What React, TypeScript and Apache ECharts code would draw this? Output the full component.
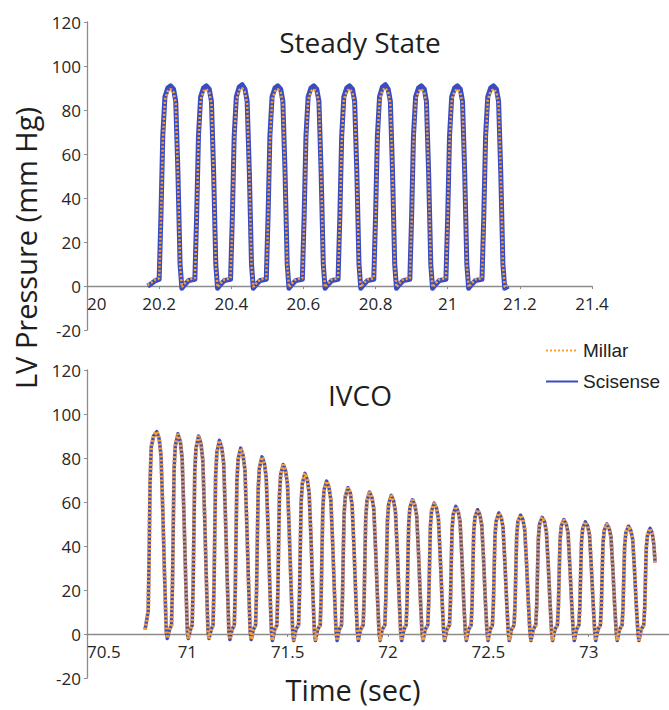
import React, { useEffect, useRef } from "react";
import * as echarts from "echarts";

// ---------- Steady State panel (time in s, LV pressure in mm Hg) ----------
const steadyTime = [
  20.168, 20.178, 20.19,
  20.2, 20.205, 20.21, 20.216, 20.224, 20.232, 20.24, 20.246, 20.252, 20.258, 20.263, 20.27, 20.282,
  20.299, 20.304, 20.309, 20.315, 20.323, 20.331, 20.339, 20.345, 20.351, 20.357, 20.362, 20.369, 20.381,
  20.398, 20.403, 20.408, 20.414, 20.422, 20.43, 20.438, 20.444, 20.45, 20.456, 20.461, 20.468, 20.48,
  20.497, 20.502, 20.507, 20.513, 20.521, 20.529, 20.537, 20.543, 20.549, 20.555, 20.56, 20.567, 20.579,
  20.597, 20.602, 20.607, 20.613, 20.621, 20.629, 20.637, 20.643, 20.649, 20.655, 20.66, 20.667, 20.679,
  20.696, 20.701, 20.706, 20.712, 20.72, 20.728, 20.736, 20.742, 20.748, 20.754, 20.759, 20.766, 20.778,
  20.795, 20.8, 20.805, 20.811, 20.819, 20.827, 20.835, 20.841, 20.847, 20.853, 20.858, 20.865, 20.877,
  20.895, 20.9, 20.905, 20.911, 20.919, 20.927, 20.935, 20.941, 20.947, 20.953, 20.958, 20.965, 20.977,
  20.995, 21.0, 21.005, 21.011, 21.019, 21.027, 21.035, 21.041, 21.047, 21.053, 21.058, 21.065, 21.077,
  21.095, 21.1, 21.105, 21.111, 21.119, 21.127, 21.135, 21.141, 21.147, 21.153, 21.158, 21.168,
];
const steadyScisense = [
  0, 1, 2.5,
  3, 32, 68, 86, 90, 91, 89.5, 84, 52, 10, -1, 0.5, 2.5,
  3, 32, 68, 86, 90, 91, 89.5, 84, 52, 10, -1, 0.5, 2.5,
  3, 32, 68, 86, 90.5, 91.5, 89.5, 84, 52, 10, -1, 0.5, 2.5,
  3, 32, 68, 86, 90, 91, 89.5, 84, 52, 10, -1, 0.5, 2.5,
  3, 32, 68, 86, 90, 91, 89.5, 84, 52, 10, -1, 0.5, 2.5,
  3, 32, 68, 86, 90, 91, 89.5, 84, 52, 10, -1, 0.5, 2.5,
  3, 32, 68, 86, 90.5, 91.5, 89.5, 84, 52, 10, -1, 0.5, 2.5,
  3, 32, 68, 86, 90, 91, 89.5, 84, 52, 10, -1, 0.5, 2.5,
  3, 32, 68, 86, 90, 91, 89.5, 84, 52, 10, -1, 0.5, 2.5,
  3, 32, 68, 86, 90, 91, 89.5, 84, 52, 10, -1, 0,
];
const steadyMillar = [
  0.5, 1.5, 3,
  3.5, 29, 65, 84.5, 88.5, 89.5, 88, 83, 51, 9.5, -0.5, 1, 3,
  3.5, 29, 65, 84.5, 88.5, 89.5, 88, 83, 51, 9.5, -0.5, 1, 3,
  3.5, 29, 65, 84.5, 89, 90, 88, 83, 51, 9.5, -0.5, 1, 3,
  3.5, 29, 65, 84.5, 88.5, 89.5, 88, 83, 51, 9.5, -0.5, 1, 3,
  3.5, 29, 65, 84.5, 88.5, 89.5, 88, 83, 51, 9.5, -0.5, 1, 3,
  3.5, 29, 65, 84.5, 88.5, 89.5, 88, 83, 51, 9.5, -0.5, 1, 3,
  3.5, 29, 65, 84.5, 89, 90, 88, 83, 51, 9.5, -0.5, 1, 3,
  3.5, 29, 65, 84.5, 88.5, 89.5, 88, 83, 51, 9.5, -0.5, 1, 3,
  3.5, 29, 65, 84.5, 88.5, 89.5, 88, 83, 51, 9.5, -0.5, 1, 3,
  3.5, 29, 65, 84.5, 88.5, 89.5, 88, 83, 51, 9.5, -0.5, 0.5,
];

// ---------- IVCO panel ----------
const ivcoTime = [
  70.789, 70.797, 70.805, 70.81, 70.814, 70.82, 70.832, 70.848, 70.86, 70.869, 70.878, 70.887, 70.895, 70.9, 70.911,
  70.921, 70.926, 70.93, 70.934, 70.94, 70.953, 70.965, 70.974, 70.983, 70.992, 71.0, 71.005, 71.016,
  71.024, 71.029, 71.033, 71.037, 71.043, 71.056, 71.068, 71.077, 71.086, 71.095, 71.103, 71.108, 71.119,
  71.128, 71.133, 71.137, 71.141, 71.147, 71.16, 71.172, 71.181, 71.19, 71.199, 71.207, 71.212, 71.223,
  71.234, 71.239, 71.243, 71.247, 71.253, 71.266, 71.278, 71.287, 71.296, 71.305, 71.313, 71.318, 71.329,
  71.34, 71.345, 71.349, 71.353, 71.359, 71.372, 71.384, 71.393, 71.402, 71.411, 71.419, 71.424, 71.435,
  71.446, 71.451, 71.455, 71.459, 71.465, 71.478, 71.49, 71.499, 71.508, 71.517, 71.525, 71.53, 71.541,
  71.554, 71.559, 71.563, 71.567, 71.573, 71.586, 71.598, 71.607, 71.616, 71.625, 71.633, 71.638, 71.649,
  71.662, 71.667, 71.671, 71.675, 71.681, 71.694, 71.706, 71.715, 71.724, 71.733, 71.741, 71.746, 71.757,
  71.768, 71.773, 71.777, 71.781, 71.787, 71.8, 71.812, 71.821, 71.83, 71.839, 71.847, 71.852, 71.863,
  71.876, 71.881, 71.885, 71.889, 71.895, 71.908, 71.92, 71.929, 71.938, 71.947, 71.955, 71.96, 71.971,
  71.984, 71.989, 71.993, 71.997, 72.003, 72.016, 72.028, 72.037, 72.046, 72.055, 72.063, 72.068, 72.079,
  72.09, 72.095, 72.099, 72.103, 72.109, 72.122, 72.134, 72.143, 72.152, 72.161, 72.169, 72.174, 72.185,
  72.198, 72.203, 72.207, 72.211, 72.217, 72.23, 72.242, 72.251, 72.26, 72.269, 72.277, 72.282, 72.293,
  72.306, 72.311, 72.315, 72.319, 72.325, 72.338, 72.35, 72.359, 72.368, 72.377, 72.385, 72.39, 72.401,
  72.414, 72.419, 72.423, 72.427, 72.433, 72.446, 72.458, 72.467, 72.476, 72.485, 72.493, 72.498, 72.509,
  72.52, 72.525, 72.529, 72.533, 72.539, 72.552, 72.564, 72.573, 72.582, 72.591, 72.599, 72.604, 72.615,
  72.628, 72.633, 72.637, 72.641, 72.647, 72.66, 72.672, 72.681, 72.69, 72.699, 72.707, 72.712, 72.723,
  72.736, 72.741, 72.745, 72.749, 72.755, 72.768, 72.78, 72.789, 72.798, 72.807, 72.815, 72.82, 72.831,
  72.844, 72.849, 72.853, 72.857, 72.863, 72.876, 72.888, 72.897, 72.906, 72.915, 72.923, 72.928, 72.939,
  72.951, 72.956, 72.96, 72.964, 72.97, 72.983, 72.995, 73.004, 73.013, 73.022, 73.03, 73.035, 73.046,
  73.058, 73.063, 73.067, 73.071, 73.077, 73.09, 73.102, 73.111, 73.12, 73.129, 73.137, 73.142, 73.153,
  73.166, 73.171, 73.175, 73.179, 73.185, 73.198, 73.21, 73.219, 73.228, 73.237, 73.245, 73.25, 73.261,
  73.274, 73.279, 73.283, 73.287, 73.293, 73.306, 73.316, 73.324, 73.331,
];
const ivcoScisense = [
  2, 6, 10.5, 38, 68, 85, 90, 92, 88.5, 81, 55, 25, 1, -2, 2,
  4, 23, 50, 75, 85.5, 91, 87.5, 80, 54.5, 24.5, 1, -2, 2,
  4, 22.5, 49.5, 74, 84.5, 90, 86.5, 79, 54, 24, 1, -2, 2,
  4, 22, 48.5, 72, 82.5, 88, 84.5, 77.5, 53, 24, 1, -2.5, 2,
  4, 21, 46.5, 69.5, 79.5, 84.5, 81, 74.5, 50.5, 23, 1, -2.5, 2,
  4, 20, 44, 66, 75.5, 80.5, 77.5, 71, 48.5, 21.5, 1, -3, 2,
  4, 19, 42.5, 63, 72.5, 77, 74, 68, 46, 21, 1, -3, 2,
  4, 18, 40, 60, 68.5, 73, 70, 64, 44, 20, 1, -3, 2,
  4, 17.5, 38, 57, 65.5, 69.5, 66.5, 61, 41.5, 19, 1, -3, 2,
  4, 16.5, 36.5, 54.5, 62.5, 66.5, 64, 58.5, 40, 18, 1, -3, 2,
  4, 16, 35.5, 53, 60.5, 64.5, 62, 57, 38.5, 17.5, 1, -3, 2,
  4, 16, 34.5, 51.5, 59, 63, 60.5, 55.5, 38, 17, 1, -3, 2,
  4, 15, 33.5, 50, 57.5, 61, 58.5, 53.5, 36.5, 16.5, 1, -3, 2,
  4, 15, 32.5, 49, 56, 59.5, 57, 52.5, 35.5, 16, 1, -3, 2,
  4, 14.5, 32, 47.5, 54.5, 58, 55.5, 51, 35, 15.5, 1, -3, 2,
  4, 14, 31, 46.5, 53, 56.5, 54, 49.5, 34, 15, 1, -3, 2,
  4, 14, 30, 45, 51.5, 55, 53, 48.5, 33, 15, 1, -3, 2,
  4, 13.5, 29.5, 44.5, 51, 54, 52, 47.5, 32.5, 14.5, 1, -3, 2,
  4, 13, 29, 43.5, 50, 53, 51, 46.5, 32, 14.5, 1, -3, 2,
  4, 13, 28.5, 42.5, 49, 52, 50, 46, 31, 14, 1, -3, 2,
  4, 13, 28, 42, 48, 51, 49, 45, 30.5, 14, 1, -3, 2,
  4, 12.5, 27.5, 41, 47, 50, 48, 44, 30, 13.5, 1, -3, 2,
  4, 12, 27, 40, 46, 49, 47, 43, 29.5, 13, 1, -3, 2,
  4, 12, 26.5, 39.5, 45, 48, 46, 41, 32.5,
];
// The two IVCO traces coincide in the figure
const ivcoMillar = ivcoScisense;

const yTicks = { min: -20, max: 120, interval: 20 };
const steadyX = { min: 20, max: 21.4, interval: 0.2 };
const ivcoX = { min: 70.5, max: 73.4, interval: 0.5 };

const seriesNames = ["Millar", "Scisense"];
const titles = ["Steady State", "IVCO"];
const xName = "Time (sec)";
const yName = "LV Pressure (mm Hg)";

const BLUE = "#3b4cc0";
const ORANGE = "#f6a136";
const FONT = '"Open Sans", "Noto Sans", sans-serif';

const zip = (t: number[], p: number[]) => t.map((x, i) => [x, p[i]]);

export default function App() {
  const ref = useRef<HTMLDivElement>(null);
  useEffect(() => {
    const chart = echarts.init(ref.current!, null, { renderer: "svg" });
    const GRID_H = 308;
    // distance from the bottom of the grid (y = -20) to the y = 0 line
    const zeroOffset = -(GRID_H * (0 - yTicks.min)) / (yTicks.max - yTicks.min);
    const xAxisBase = (grid: number, r: any, showMax: boolean) => ({
      type: "value",
      gridIndex: grid,
      position: "bottom",
      offset: zeroOffset,
      min: r.min,
      max: r.max,
      interval: r.interval,
      axisLine: { show: true, onZero: false, lineStyle: { color: "#8c8c8c", width: 1.3 } },
      axisTick: { show: true, length: 3, lineStyle: { color: "#8c8c8c" } },
      splitLine: { show: false },
      axisLabel: {
        fontFamily: FONT,
        fontSize: 17,
        color: "#262626",
        margin: 9,
        alignMinLabel: "left",
        showMinLabel: true,
        showMaxLabel: showMax,
      },
    });
    const yAxisBase = (grid: number) => ({
      type: "value",
      gridIndex: grid,
      min: yTicks.min,
      max: yTicks.max,
      interval: yTicks.interval,
      axisLine: { show: true, onZero: false, lineStyle: { color: "#8c8c8c", width: 1.3 } },
      axisTick: { show: true, length: 3, lineStyle: { color: "#8c8c8c" } },
      splitLine: { show: false },
      axisLabel: { fontFamily: FONT, fontSize: 17, color: "#262626", margin: 6 },
    });
    const textEl = (text: string, x: number, y: number, size: number, rot = 0) => ({
      type: "text",
      x,
      y,
      rotation: rot,
      style: {
        text,
        fill: "#1e1e1e",
        font: `${size}px ${FONT}`,
        textAlign: "center",
        textVerticalAlign: "middle",
        align: "center",
        verticalAlign: "middle",
      },
    });
    chart.setOption({
      animation: false,
      backgroundColor: "#ffffff",
      grid: [
        { left: 87, top: 22, width: 505, height: GRID_H },
        { left: 87, top: 370, width: 582, height: GRID_H },
      ],
      xAxis: [xAxisBase(0, steadyX, true), xAxisBase(1, ivcoX, false)],
      yAxis: [yAxisBase(0), yAxisBase(1)],
      legend: {
        data: seriesNames.map((n) => ({ name: n, itemStyle: { opacity: 0 } })),
        orient: "vertical",
        left: 540,
        top: 336,
        itemWidth: 32,
        itemHeight: 14,
        itemGap: 12,
        itemStyle: { opacity: 0 },
        textStyle: { fontFamily: '"Liberation Sans", Arial, sans-serif', fontSize: 19, color: "#222" },
      },
      graphic: [
        textEl(titles[0], 360, 42, 28),
        textEl(titles[1], 360, 395, 28),
        textEl(xName, 353, 689, 29),
        textEl(yName, 25, 248, 29, Math.PI / 2),
      ],
      series: [
        {
          name: "Scisense",
          type: "line",
          xAxisIndex: 0,
          yAxisIndex: 0,
          data: zip(steadyTime, steadyScisense),
          symbol: "none",
          lineStyle: { color: BLUE, width: 5, join: "round" },
          itemStyle: { color: BLUE },
          z: 2,
        },
        {
          name: "Millar",
          type: "line",
          xAxisIndex: 0,
          yAxisIndex: 0,
          data: zip(steadyTime, steadyMillar),
          symbol: "none",
          lineStyle: { color: ORANGE, width: 2.5, type: [2, 2] },
          itemStyle: { color: ORANGE },
          z: 3,
        },
        {
          name: "Scisense",
          type: "line",
          xAxisIndex: 1,
          yAxisIndex: 1,
          data: zip(ivcoTime, ivcoScisense),
          symbol: "none",
          lineStyle: { color: BLUE, width: 3.5, join: "round" },
          itemStyle: { color: BLUE },
          z: 2,
        },
        {
          name: "Millar",
          type: "line",
          xAxisIndex: 1,
          yAxisIndex: 1,
          data: zip(ivcoTime, ivcoMillar),
          symbol: "none",
          lineStyle: { color: ORANGE, width: 4, type: [2, 2] },
          itemStyle: { color: ORANGE },
          z: 3,
        },
      ],
    });
    return () => chart.dispose();
  }, []);
  return (
    <div
      ref={ref}
      style={{ position: "fixed", left: 0, top: 0, width: 669, height: 710, background: "#fff" }}
    />
  );
}
